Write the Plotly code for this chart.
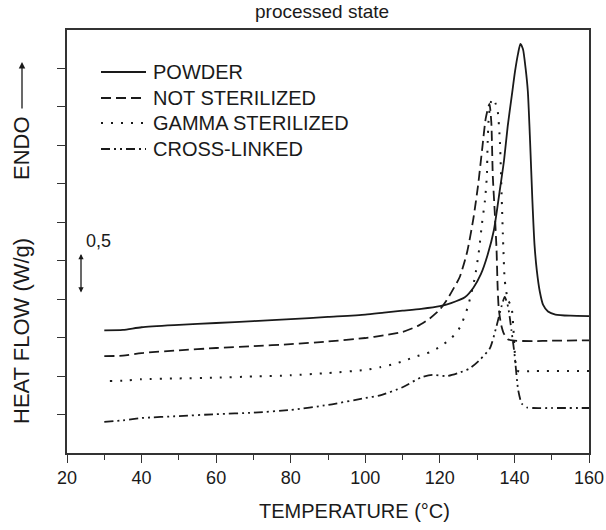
import plotly.graph_objects as go

# ---- data (temperature in °C, heat flow in arbitrary offset units; 1 unit = 0.5 W/g) ----
powder_x = [30, 35, 40, 50, 60, 70, 80, 90, 100, 105, 110, 115, 120, 123, 126.7, 129, 131, 132.8,
            134.5, 136.1, 137.2, 138.2, 139.3, 140.2, 141, 141.6, 142.3, 143, 143.6, 144.2, 144.8,
            145.4, 146, 146.8, 147.7, 149, 151, 155, 160]
powder_y = [3.19, 3.2, 3.27, 3.33, 3.38, 3.43, 3.48, 3.54, 3.6, 3.65, 3.7, 3.75, 3.82, 3.9, 4.05,
            4.3, 4.65, 5.15, 5.8, 6.85, 7.6, 8.5, 9.3, 9.95, 10.4, 10.64, 10.5, 10.0, 9.4, 8.1, 6.6,
            5.4, 4.75, 4.2, 3.85, 3.68, 3.6, 3.57, 3.56]

notster_x = [30, 35, 40, 50, 60, 70, 80, 90, 100, 105, 110, 114, 117.3, 120, 122.2, 123.8, 125.3,
             127.3, 129, 130.3, 131.4, 132.3, 133.3, 133.8, 134.2, 134.7, 135.2, 135.5, 135.8,
             136.4, 137.1, 138.2, 140, 145, 150, 160]
notster_y = [2.52, 2.53, 2.6, 2.67, 2.73, 2.78, 2.83, 2.9, 2.99, 3.06, 3.15, 3.3, 3.5, 3.73, 4.03,
             4.3, 4.57, 5.22, 6.1, 7.0, 7.95, 8.7, 9.08, 8.6, 7.2, 6.3, 5.3, 4.3, 3.75, 3.35, 3.12,
             2.96, 2.92, 2.91, 2.92, 2.93]

gamma_x = [31.5, 35, 40, 50, 60, 70, 80, 90, 100, 104, 108, 111, 114, 117.3, 120, 123.2, 125.4,
           127.5, 129.4, 130.5, 131.3, 132.1, 132.6, 132.8, 133.1, 133.6, 134.2, 134.9, 135.5,
           136.1, 136.6, 137, 137.4, 138.2, 139.2, 139.7, 140.0, 140.6, 141.3, 145, 160]
gamma_y = [1.87, 1.88, 1.92, 1.94, 1.96, 1.99, 2.02, 2.08, 2.16, 2.23, 2.32, 2.42, 2.52, 2.62,
           2.76, 3.0, 3.27, 3.8, 4.57, 5.27, 5.97, 6.57, 7.2, 8.0, 8.7, 9.1, 9.22, 9.1, 8.9, 8.1,
           6.6, 5.4, 4.5, 4.0, 3.8, 3.28, 2.76, 2.16, 2.12, 2.13, 2.13]

cross_x = [30, 35, 40, 50, 60, 70, 80, 90, 100, 104, 110, 115, 118, 122, 125, 128, 130.7, 133.4,
           135.2, 136.5, 137.4, 138.3, 139.2, 139.8, 140.1, 141, 142, 143.5, 145, 150, 160]
cross_y = [0.81, 0.85, 0.91, 0.96, 1.01, 1.05, 1.12, 1.25, 1.43, 1.5, 1.71, 1.97, 2.03, 2.0, 2.08,
           2.2, 2.42, 2.72, 3.3, 3.8, 4.06, 3.8, 3.19, 2.75, 2.5, 1.64, 1.28, 1.18, 1.17, 1.17, 1.17]

series_names = ["POWDER", "NOT STERILIZED", "GAMMA STERILIZED", "CROSS-LINKED"]
x_ticks = [20, 40, 60, 80, 100, 120, 140, 160]

INK = "#1a1a1a"
FONT = "Liberation Sans, Arial, sans-serif"

styles = [
    dict(dash="solid", width=1.8),
    dict(dash="10px,5px", width=1.8),
    dict(dash="2px,8px", width=2.0),
    dict(dash="9px,4px,2px,4px,2px,4px", width=1.8),
]

fig = go.Figure()
for name, xs, ys, st in zip(series_names,
                            [powder_x, notster_x, gamma_x, cross_x],
                            [powder_y, notster_y, gamma_y, cross_y], styles):
    fig.add_trace(go.Scatter(
        x=xs, y=ys, mode="lines", name=name, showlegend=False,
        line=dict(color=INK, width=st["width"], dash=st["dash"], shape="spline", smoothing=0.6),
    ))

W, H = 606, 530
L, R, T, B = 67, 17, 30, 77
pw, ph = W - L - R, H - T - B

def px(xp):
    return (xp - L) / pw

def py(yp):
    return (H - B - yp) / ph

# hand-made legend (longer line samples than Plotly's built-in legend)
shapes = []
annotations = []
leg_rows = [72, 98, 123, 149]
for name, st, yy in zip(series_names, styles, leg_rows):
    shapes.append(dict(type="line", xref="paper", yref="paper",
                       x0=px(101), x1=px(146), y0=py(yy), y1=py(yy),
                       line=dict(color=INK, width=st["width"], dash=st["dash"])))
    annotations.append(dict(text=name, x=px(151), y=py(yy), xref="paper", yref="paper",
                            showarrow=False, xanchor="left", yanchor="middle",
                            font=dict(size=20, color=INK)))

annotations += [
    dict(text="processed state", x=px(322), y=py(12), xref="paper", yref="paper",
         showarrow=False, font=dict(size=19, color=INK), xanchor="center", yanchor="middle"),
    dict(text="TEMPERATURE (°C)", x=px(354), y=py(511), xref="paper", yref="paper",
         showarrow=False, font=dict(size=20, color=INK), xanchor="center", yanchor="middle"),
    dict(text="HEAT FLOW (W/g)", x=px(21), y=py(331), xref="paper", yref="paper",
         showarrow=False, textangle=-90, font=dict(size=22, color=INK),
         xanchor="center", yanchor="middle"),
    dict(text="ENDO", x=px(21), y=py(148), xref="paper", yref="paper",
         showarrow=False, textangle=-90, font=dict(size=22, color=INK),
         xanchor="center", yanchor="middle"),
    dict(text="", x=px(22), y=py(62), xref="paper", yref="paper",
         showarrow=True, ax=0, ay=48, arrowhead=2, arrowsize=1, arrowwidth=1.3,
         arrowcolor=INK),
    dict(text="0,5", x=px(84), y=py(241), xref="paper", yref="paper",
         showarrow=False, font=dict(size=18, color=INK), xanchor="left", yanchor="middle"),
    dict(text="", x=px(81), y=py(254), xref="paper", yref="paper",
         showarrow=True, ax=0, ay=40, arrowhead=2, startarrowhead=2, arrowside="end+start",
         arrowsize=0.8, arrowwidth=1.3, arrowcolor=INK),
]

fig.update_layout(
    width=W, height=H,
    margin=dict(l=L, r=R, t=T, b=B, autoexpand=False),
    paper_bgcolor="white", plot_bgcolor="white",
    font=dict(family=FONT, color=INK),
    showlegend=False,
    xaxis=dict(
        range=[20, 160], tickvals=x_ticks, ticks="outside", ticklen=8, tickwidth=1.3,
        tickcolor="#333", tickfont=dict(size=18, color=INK), automargin=False,
        minor=dict(tickvals=[30, 50, 70, 90, 110, 130, 150], ticks="outside", ticklen=5,
                   tickwidth=1.3, tickcolor="#333"),
        showline=True, linecolor="#333", linewidth=1.5, mirror=True,
        showgrid=False, zeroline=False,
    ),
    yaxis=dict(
        range=[0, 11], tickvals=list(range(1, 11)), ticktext=[""] * 10, automargin=False,
        ticks="outside", ticklen=8, tickwidth=1.3, tickcolor="#333",
        showline=True, linecolor="#333", linewidth=1.5, mirror=True,
        showgrid=False, zeroline=False,
    ),
    shapes=shapes,
    annotations=annotations,
)

fig.write_html("out.html")
